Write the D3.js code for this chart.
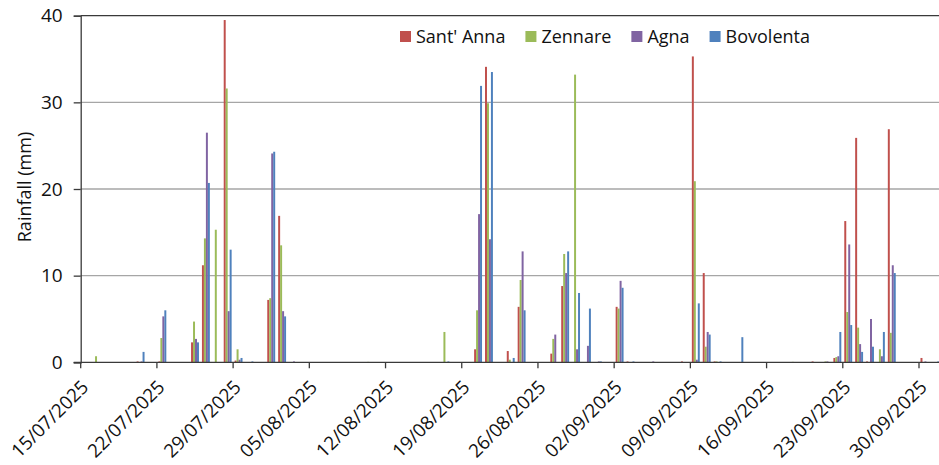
<!DOCTYPE html>
<html>
<head>
<meta charset="utf-8">
<script src="https://cdn.jsdelivr.net/npm/d3@7"></script>
<style>
  html, body { margin: 0; padding: 0; background: #fff; }
  svg { display: block; font-family: 'Open Sans', sans-serif; }
</style>
</head>
<body>
<svg id="chart" width="939" height="465"></svg>
<script>
// daily rainfall (mm), 15/07/2025 .. 01/10/2025, one row per week
const santAnna = [
  0, 0, 0, 0, 0, 0.1, 0,
  0.1, 0, 0, 2.3, 11.2, 0, 39.5,
  0.2, 0, 0, 7.2, 16.9, 0, 0,
  0, 0, 0, 0, 0, 0, 0,
  0, 0, 0, 0, 0, 0, 0,
  0, 1.5, 34.1, 0, 1.3, 6.4, 0,
  0, 1.0, 8.8, 0, 0, 0, 0,
  6.4, 0.1, 0, 0, 0, 0, 0.1,
  35.3, 10.3, 0.1, 0, 0, 0, 0,
  0, 0, 0, 0, 0.1, 0, 0.5,
  16.3, 25.9, 0.1, 0, 26.9, 0, 0,
  0.5, 0
]
const zennare = [
  0, 0.7, 0, 0, 0, 0, 0,
  2.8, 0, 0, 4.7, 14.3, 15.3, 31.6,
  1.5, 0, 0, 7.4, 13.5, 0, 0,
  0, 0, 0, 0, 0, 0.05, 0,
  0, 0, 0, 0, 0, 3.5, 0,
  0, 6.0, 29.9, 0, 0.3, 9.5, 0,
  0, 2.7, 12.5, 33.2, 0, 0, 0,
  6.2, 0, 0, 0, 0, 0, 0,
  20.9, 1.8, 0.1, 0, 0, 0, 0,
  0, 0, 0.05, 0, 0, 0.1, 0.6,
  5.8, 4.0, 0, 1.5, 3.4, 0, 0,
  0, 0
]
const agna = [
  0, 0, 0, 0, 0, 0.1, 0,
  5.3, 0, 0, 2.7, 26.5, 0, 5.9,
  0.3, 0, 0, 24.1, 5.9, 0.1, 0,
  0, 0, 0, 0, 0, 0, 0,
  0, 0, 0, 0, 0, 0, 0,
  0, 17.1, 14.2, 0, 0, 12.8, 0,
  0, 3.2, 10.3, 1.5, 1.9, 0.1, 0,
  9.4, 0, 0, 0.1, 0, 0, 0,
  0.3, 3.5, 0, 0, 0, 0, 0,
  0, 0, 0, 0, 0, 0.1, 0.7,
  13.6, 2.1, 5.0, 0.7, 11.2, 0, 0,
  0.1, 0
]
const bovolenta = [
  0, 0, 0, 0, 0, 1.2, 0,
  6.0, 0, 0, 2.3, 20.7, 0, 13.0,
  0.5, 0.1, 0, 24.3, 5.3, 0, 0,
  0, 0, 0, 0, 0, 0, 0,
  0, 0, 0, 0, 0, 0.1, 0,
  0, 31.9, 33.5, 0, 0.5, 6.0, 0,
  0, 0, 12.8, 8.0, 6.2, 0.1, 0,
  8.6, 0.1, 0, 0, 0, 0, 0,
  6.8, 3.2, 0.1, 0, 2.9, 0, 0,
  0, 0, 0, 0, 0, 0, 3.5,
  4.3, 1.2, 1.8, 3.5, 10.3, 0, 0,
  0, 0.1
]
const seriesNames = ["Sant' Anna", 'Zennare', 'Agna', 'Bovolenta']
const seriesColors = ['#C0504D', '#9BBB59', '#8064A2', '#4F81BD']
const tickLabels = ['15/07/2025', '22/07/2025', '29/07/2025', '05/08/2025', '12/08/2025',
  '19/08/2025', '26/08/2025', '02/09/2025', '09/09/2025', '16/09/2025', '23/09/2025', '30/09/2025']
const yTicks = [0, 10, 20, 30, 40]

const series = [santAnna, zennare, agna, bovolenta]
const parse = d3.timeParse('%d/%m/%Y')
const fmt = d3.timeFormat('%d/%m/%Y')
const days = d3.timeDay.range(parse('15/07/2025'), parse('02/10/2025')).map(fmt)

const svg = d3.select('#chart')

const left = 80.7
const step = 10.887
const x = d3.scaleBand()
  .domain(days)
  .range([left, left + step * days.length])
  .paddingInner(0)
  .paddingOuter(0)

const xSub = d3.scaleBand()
  .domain(seriesNames)
  .range([0, x.bandwidth()])
  .paddingInner(0)
  .paddingOuter(0.75)

const y = d3.scaleLinear().domain([0, 40]).range([362.3, 15.7])

const axisColor = '#3a3a3a'
const gridColor = '#a6a6a6'

// gridlines
svg.append('g')
  .selectAll('line')
  .data(yTicks.filter(d => d > 0 && d < 40))
  .join('line')
  .attr('x1', left)
  .attr('x2', 939)
  .attr('y1', d => y(d))
  .attr('y2', d => y(d))
  .attr('stroke', gridColor)
  .attr('stroke-width', 1.3)

// top border of plot area
svg.append('line')
  .attr('x1', left)
  .attr('x2', 939)
  .attr('y1', y(40))
  .attr('y2', y(40))
  .attr('stroke', axisColor)
  .attr('stroke-width', 1.3)

// bars
series.forEach((vals, s) => {
  svg.append('g')
    .selectAll('rect')
    .data(vals.map((v, i) => ({ day: days[i], v })).filter(d => d.v > 0))
    .join('rect')
    .attr('x', d => x(d.day) + xSub(seriesNames[s]))
    .attr('width', xSub.bandwidth())
    .attr('y', d => y(d.v))
    .attr('height', d => y(0) - y(d.v))
    .attr('fill', seriesColors[s])
})

// y axis
const yAxis = svg.append('g')
  .attr('transform', `translate(${left},0)`)
  .call(d3.axisLeft(y).tickValues(yTicks).tickSize(7).tickPadding(11).tickFormat(d3.format('d')))
yAxis.select('.domain').attr('stroke', axisColor).attr('stroke-width', 1.3)
yAxis.selectAll('.tick line').attr('stroke', axisColor).attr('stroke-width', 1.3)
yAxis.selectAll('.tick text')
  .attr('font-size', '19px')
  .attr('font-family', 'Open Sans')
  .attr('fill', '#111')

svg.append('text')
  .attr('transform', `translate(31,187) rotate(-90)`)
  .attr('text-anchor', 'middle')
  .attr('font-size', '18px')
  .attr('fill', '#111')
  .text('Rainfall (mm)')

// x axis
svg.append('line')
  .attr('x1', left - 7)
  .attr('x2', 939)
  .attr('y1', y(0))
  .attr('y2', y(0))
  .attr('stroke', axisColor)
  .attr('stroke-width', 1.3)

const xTickG = svg.append('g')
  .selectAll('g')
  .data(tickLabels)
  .join('g')
  .attr('transform', d => `translate(${x(d)},${y(0)})`)

xTickG.append('line')
  .attr('y1', 0)
  .attr('y2', 6)
  .attr('stroke', axisColor)
  .attr('stroke-width', 1.3)

xTickG.append('text')
  .attr('transform', 'translate(9,26) rotate(-45)')
  .attr('text-anchor', 'end')
  .attr('font-size', '18.8px')
  .attr('fill', '#111')
  .text(d => d)

// legend
const legend = svg.append('g').attr('transform', 'translate(400,0)')
let lx = 0
seriesNames.forEach((name, i) => {
  legend.append('rect')
    .attr('x', lx)
    .attr('y', 31)
    .attr('width', 11)
    .attr('height', 11)
    .attr('fill', seriesColors[i])
  const t = legend.append('text')
    .attr('x', lx + 16)
    .attr('y', 43)
    .attr('font-size', '18px')
    .attr('fill', '#111')
    .text(name)
  lx += 16 + t.node().getComputedTextLength() + 20
})
</script>
</body>
</html>
